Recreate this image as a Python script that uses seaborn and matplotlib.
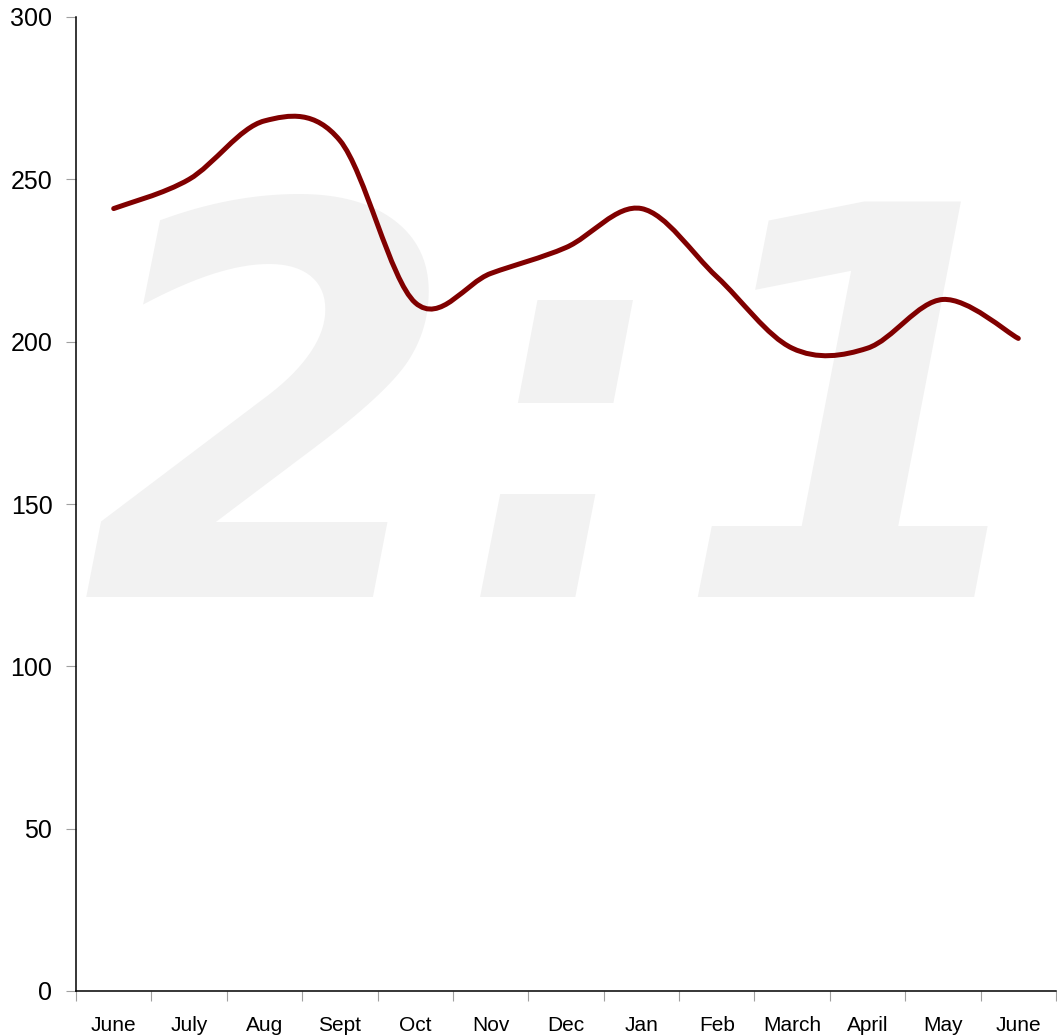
import numpy as np
import matplotlib
matplotlib.use("Agg")
import matplotlib.pyplot as plt
from matplotlib.path import Path
from matplotlib.patches import PathPatch
from matplotlib.ticker import MultipleLocator, FixedLocator
import seaborn as sns

# Data
months = ["June", "July", "Aug", "Sept", "Oct", "Nov", "Dec",
          "Jan", "Feb", "March", "April", "May", "June"]
values = [241, 250, 268, 262, 212, 221, 229, 241, 220, 198, 198, 213, 201]

sns.set_style("white")
plt.rcParams["font.family"] = ["Liberation Sans", "DejaVu Sans"]

fig = plt.figure(figsize=(10.57, 10.36), dpi=100)
ax = fig.add_axes([76 / 1057, 45 / 1036, 980 / 1057, 974 / 1036])
ax.set_facecolor("none")

# Watermark "2:1" behind the axes
fig.text(0.536, 1 - 597 / 1036, "2:1", color="#f2f2f2", fontsize=390, fontweight="bold",
         fontstyle="oblique", family="DejaVu Sans", ha="center", va="baseline",
         zorder=-10)

# Smoothed line (Catmull-Rom style Bezier between the data points)
x = np.arange(len(values), dtype=float)
y = np.array(values, dtype=float)
pts = np.column_stack([x, y])
ext = np.vstack([pts[0], pts, pts[-1]])
verts = [tuple(pts[0])]
codes = [Path.MOVETO]
for i in range(len(pts) - 1):
    p0, p1, p2, p3 = ext[i], ext[i + 1], ext[i + 2], ext[i + 3]
    c1 = p1 + (p2 - p0) / 6
    c2 = p2 - (p3 - p1) / 6
    verts += [tuple(c1), tuple(c2), tuple(p2)]
    codes += [Path.CURVE4] * 3
ax.add_patch(PathPatch(Path(verts, codes), facecolor="none", edgecolor="#800000",
                       linewidth=3.6, capstyle="round", joinstyle="round", zorder=3))

ax.set_xlim(-0.5, len(months) - 0.5)
ax.set_ylim(0, 300)
ax.yaxis.set_major_locator(MultipleLocator(50))
ax.set_xticks(x)
ax.set_xticklabels(months)
ax.xaxis.set_minor_locator(FixedLocator(np.arange(-0.5, len(months), 1.0)))

ax.tick_params(axis="x", which="major", length=0, pad=18, labelsize=15,
               labelcolor="black")
ax.tick_params(axis="x", which="minor", length=7, color="#a0a0a0", width=0.8,
               direction="out", bottom=True)
ax.tick_params(axis="y", which="major", length=7, color="#a0a0a0", width=0.8,
               direction="out", pad=10, labelsize=18, left=True, labelcolor="black")

sns.despine(ax=ax, top=True, right=True)
for side in ["left", "bottom"]:
    ax.spines[side].set_color("black")
    ax.spines[side].set_linewidth(1.1)

fig.savefig("out.png", dpi=100)
